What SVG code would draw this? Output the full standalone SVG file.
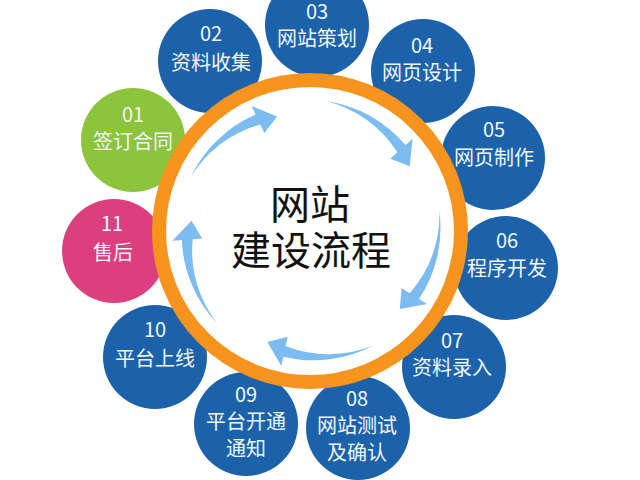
<svg xmlns="http://www.w3.org/2000/svg" xmlns:xlink="http://www.w3.org/1999/xlink" width="640" height="480" viewBox="0 0 640 480">
<style>
.b{fill:#1b62ab}
.g{fill:#8cc43c}
.p{fill:#dc3f7e}
.t{font-family:"Noto Sans CJK SC","Noto Sans",sans-serif;font-size:20px;fill:#f2f7fc;text-anchor:middle}
.c{font-family:"Noto Sans CJK SC","Noto Sans",sans-serif;font-size:40px;fill:#111;text-anchor:middle}
.arr{fill:#7cbcf0}
</style>
<defs>
<path id="arrow" d="M84.2,-100.3 A128.5,128.5 0 0 1 126.9,-20.1 L136.3,-21.6 L119,0 L106.7,-16.9 L116.1,-18.4 A118,118 0 0 0 84.2,-100.3 Z"/>
</defs>
<rect width="640" height="480" fill="#fff"/>
<g id="n01"><circle class="g" cx="133" cy="140" r="52"/><text class="t" x="133" y="122">01</text><text class="t" x="133" y="149">签订合同</text></g>
<g id="n02"><circle class="b" cx="210" cy="61" r="52"/><text class="t" x="211" y="41">02</text><text class="t" x="211" y="70">资料收集</text></g>
<g id="n03"><circle class="b" cx="317" cy="25" r="52"/><text class="t" x="317" y="19">03</text><text class="t" x="317" y="46">网站策划</text></g>
<g id="n04"><circle class="b" cx="423" cy="71" r="52"/><text class="t" x="422" y="53">04</text><text class="t" x="422" y="80">网页设计</text></g>
<g id="n05"><circle class="b" cx="493" cy="158" r="52"/><text class="t" x="494" y="137">05</text><text class="t" x="494" y="165">网页制作</text></g>
<g id="n06"><circle class="b" cx="506" cy="268" r="52"/><text class="t" x="507" y="248">06</text><text class="t" x="507" y="276">程序开发</text></g>
<g id="n07"><circle class="b" cx="454" cy="367" r="52"/><text class="t" x="452" y="348">07</text><text class="t" x="452" y="375">资料录入</text></g>
<g id="n08"><circle class="b" cx="358" cy="428" r="52"/><text class="t" x="357" y="406">08</text><text class="t" x="357" y="433">网站测试</text><text class="t" x="357" y="460">及确认</text></g>
<g id="n09"><circle class="b" cx="246" cy="424" r="52"/><text class="t" x="246" y="402">09</text><text class="t" x="246" y="429">平台开通</text><text class="t" x="246" y="456">通知</text></g>
<g id="n10"><circle class="b" cx="155" cy="357" r="52"/><text class="t" x="155" y="337">10</text><text class="t" x="155" y="366">平台上线</text></g>
<g id="n11"><circle class="p" cx="114" cy="251" r="52"/><text class="t" x="112" y="231">11</text><text class="t" x="113" y="260">售后</text></g>
<g id="center"><circle cx="310" cy="231" r="151" fill="#fff" stroke="#f7941d" stroke-width="14"/><text class="c" x="310" y="219">网站</text><text class="c" x="311" y="265">建设流程</text></g>
<g id="connectors" class="arr">
<use xlink:href="#arrow" transform="translate(310,231) rotate(-106)"/>
<use xlink:href="#arrow" transform="translate(310,231) rotate(-33)"/>
<use xlink:href="#arrow" transform="translate(310,231) rotate(41)"/>
<use xlink:href="#arrow" transform="translate(310,231) rotate(111)"/>
<use xlink:href="#arrow" transform="translate(310,231) rotate(185)"/>
</g>
</svg>
